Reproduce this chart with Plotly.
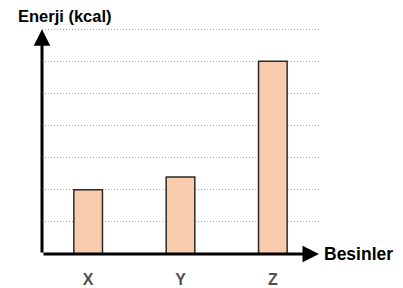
import plotly.graph_objects as go

categories = ["X", "Y", "Z"]
values = [2, 2.4, 6]
y_max = 7

fig = go.Figure(go.Bar(
    x=categories, y=values, width=0.31,
    marker=dict(color="#F8CBAD", line=dict(color="#2b2b2b", width=1.5)),
))

fam = "Liberation Sans, Arial, sans-serif"
top_px = 26
plot_h = 288 - top_px - 34

fig.update_layout(
    width=403, height=288,
    margin=dict(l=42, r=84, t=top_px, b=34, autoexpand=False),
    plot_bgcolor="white", paper_bgcolor="white",
    showlegend=False,
    xaxis=dict(range=[-0.5, 2.5], showgrid=False, zeroline=False, showline=False,
               ticks="", ticklabelstandoff=14, automargin=False,
               tickfont=dict(family=fam, size=16, color="#505050", weight="bold")),
    yaxis=dict(range=[0, y_max + 0.1], dtick=1, showgrid=True, gridcolor="#a0a0a0",
               griddash="1px,2px", gridwidth=1, zeroline=False, showline=False,
               showticklabels=False, ticks="", automargin=False),
    annotations=[
        dict(x=-0.5, y=y_max, ax=-0.5, ay=0, xref="x", yref="y", axref="x", ayref="y",
             showarrow=True, arrowhead=2, arrowwidth=3, arrowsize=1.1, arrowcolor="black", text=""),
        dict(x=2.5, y=0, ax=-0.5, ay=0, xref="x", yref="y", axref="x", ayref="y",
             showarrow=True, arrowhead=2, arrowwidth=3, arrowsize=1.1, arrowcolor="black", text=""),
        dict(x=(16 - 42) / 277, y=1 + (top_px - 15.5) / plot_h, xref="paper", yref="paper",
             xanchor="left", yanchor="middle", text="Enerji (kcal)", showarrow=False,
             font=dict(family=fam, size=16.5, color="black", weight="bold")),
        dict(x=(322 - 42) / 277, y=0, xref="paper", yref="paper", xanchor="left", yanchor="middle",
             text="Besinler", showarrow=False,
             font=dict(family=fam, size=17.5, color="black", weight="bold")),
    ],
)

fig.write_html("out.html", config={"displayModeBar": False},
               post_script="document.body.style.margin='0';")
